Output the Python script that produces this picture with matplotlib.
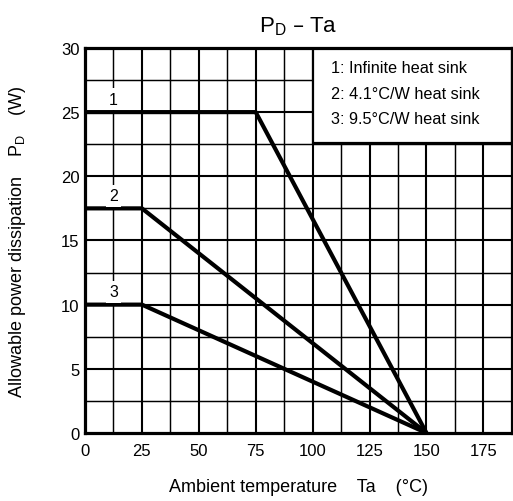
import matplotlib.pyplot as plt
import numpy as np

plt.rcParams['font.family'] = ['Liberation Sans', 'DejaVu Sans']

# curves: (Ta, PD) break points
curve_labels = ['1', '2', '3']
curve_ta = [[0, 75, 150], [0, 25, 150], [0, 25, 150]]
curve_pd = [[25, 25, 0], [17.5, 17.5, 0], [10, 10, 0]]
legend_lines = ['1: Infinite heat sink', '2: 4.1°C/W heat sink', '3: 9.5°C/W heat sink']
x_ticks = [0, 25, 50, 75, 100, 125, 150, 175]
y_ticks = [0, 5, 10, 15, 20, 25, 30]

fig = plt.figure(figsize=(5.13, 5.02), dpi=100)
ax = fig.add_axes([0.1657, 0.1355, 0.832, 0.767])
ax.set_xlim(0, 187.5)
ax.set_ylim(0, 30)

# grid
for gx in np.arange(12.5, 187.5, 12.5):
    lw = 1.5 if gx % 25 == 0 else 1.05
    ax.axvline(gx, color='black', lw=lw, zorder=1)
for gy in np.arange(2.5, 30, 2.5):
    lw = 1.5 if gy % 5 == 0 else 1.05
    ax.axhline(gy, color='black', lw=lw, zorder=1)

for ta, pd in zip(curve_ta, curve_pd):
    ax.plot(ta, pd, color='black', lw=3.0, zorder=3, solid_capstyle='butt')

for lab, pd in zip(curve_labels, curve_pd):
    ax.text(12.5, pd[0] + 1.0, lab, ha='center', va='center', fontsize=11.5,
            bbox=dict(facecolor='white', edgecolor='none', pad=2.5), zorder=4)

# legend box
ax.add_patch(plt.Rectangle((100, 22.6), 87.5, 7.4, facecolor='white',
                           edgecolor='black', lw=1.6, zorder=5))
for i, t in enumerate(legend_lines):
    ax.text(108.0, 28.45 - i * 1.98, t, ha='left', va='center', fontsize=11.7, zorder=6)

for s in ax.spines.values():
    s.set_linewidth(2.3)
    s.set_zorder(6)

ax.set_xticks(x_ticks)
ax.set_yticks(y_ticks)
ax.tick_params(length=0, labelsize=12)
ax.tick_params(axis='x', pad=7)
ax.tick_params(axis='y', pad=4)
ax.set_title('P$_\\mathregular{D}$ – Ta', fontsize=16, pad=12)
ax.set_xlabel('Ambient temperature    Ta    (°C)', fontsize=13, va='center')
ax.xaxis.set_label_coords(0.5, -0.140)
ax.set_ylabel('Allowable power dissipation    P$_\\mathregular{D}$    (W)', fontsize=13, va='center')
ax.yaxis.set_label_coords(-0.157, 0.5)

fig.savefig('out.png', dpi=100)
